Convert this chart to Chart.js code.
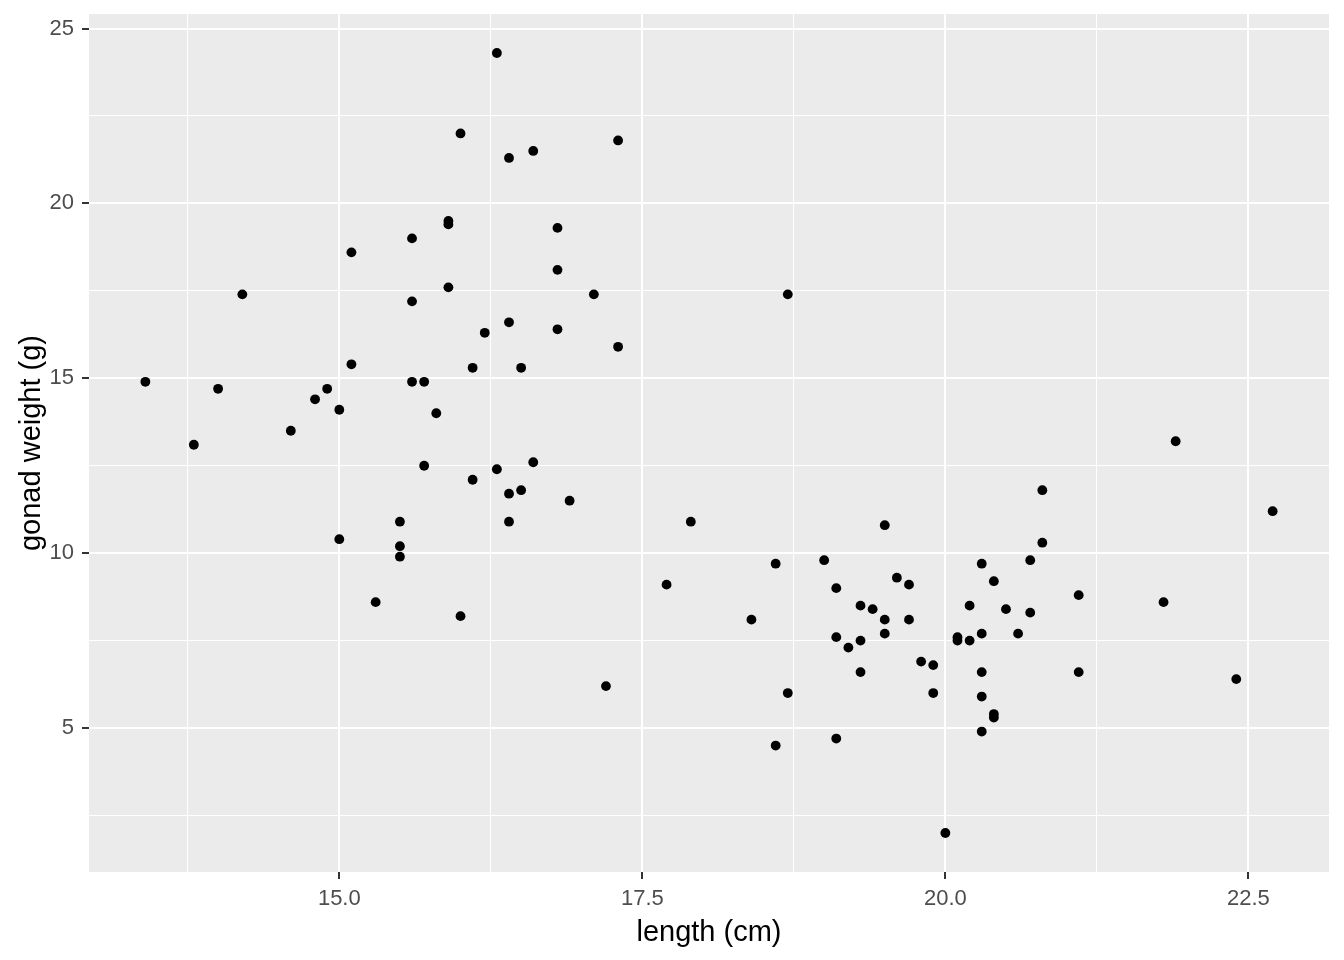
<!DOCTYPE html>
<html>
<head>
<meta charset="utf-8">
<title>gonad weight vs length</title>
<script src="https://cdn.jsdelivr.net/npm/chart.js@4"></script>
<style>
  html, body { margin: 0; padding: 0; background: #ffffff; }
  #chart { display: block; }
</style>
</head>
<body>
<canvas id="chart" width="1344" height="960"></canvas>
<script>
const lengthCm = [
  13.4, 13.8, 14.0, 14.2, 14.6, 14.8, 14.9, 15.0, 15.0, 15.1,
  15.1, 15.3, 15.5, 15.5, 15.5, 15.6, 15.6, 15.6, 15.7, 15.7,
  15.8, 15.9, 15.9, 15.9, 16.0, 16.0, 16.1, 16.1, 16.2, 16.3,
  16.3, 16.4, 16.4, 16.4, 16.4, 16.5, 16.5, 16.6, 16.6, 16.8,
  16.8, 16.8, 16.9, 17.1, 17.2, 17.3, 17.3, 17.7, 17.9, 18.4,
  18.6, 18.6, 18.7, 18.7, 19.0, 19.1, 19.1, 19.1, 19.2, 19.3,
  19.3, 19.3, 19.4, 19.5, 19.5, 19.5, 19.6, 19.7, 19.7, 19.8,
  19.9, 19.9, 20.0, 20.1, 20.1, 20.2, 20.2, 20.3, 20.3, 20.3,
  20.3, 20.3, 20.4, 20.4, 20.4, 20.5, 20.6, 20.7, 20.7, 20.8,
  20.8, 21.1, 21.1, 21.8, 21.9, 22.4, 22.7
];
const gonadWeight = [
  14.9, 13.1, 14.7, 17.4, 13.5, 14.4, 14.7, 14.1, 10.4, 18.6,
  15.4, 8.6, 10.9, 10.2, 9.9, 19.0, 17.2, 14.9, 14.9, 12.5,
  14.0, 19.5, 19.4, 17.6, 22.0, 8.2, 15.3, 12.1, 16.3, 24.3,
  12.4, 21.3, 16.6, 11.7, 10.9, 15.3, 11.8, 21.5, 12.6, 19.3,
  18.1, 16.4, 11.5, 17.4, 6.2, 21.8, 15.9, 9.1, 10.9, 8.1,
  9.7, 4.5, 17.4, 6.0, 9.8, 9.0, 7.6, 4.7, 7.3, 8.5,
  7.5, 6.6, 8.4, 10.8, 8.1, 7.7, 9.3, 9.1, 8.1, 6.9,
  6.8, 6.0, 2.0, 7.6, 7.5, 7.5, 8.5, 9.7, 7.7, 6.6,
  5.9, 4.9, 9.2, 5.4, 5.3, 8.4, 7.7, 9.8, 8.3, 11.8,
  10.3, 8.8, 6.6, 8.6, 13.2, 6.4, 11.2
];

// Axis breaks (major carry labels, minor only draw a thin grid line)
const xBreaks = [15, 17.5, 20, 22.5];
const xMinor = [13.75, 16.25, 18.75, 21.25];
const yBreaks = [5, 10, 15, 20, 25];
const yMinor = [2.5, 7.5, 12.5, 17.5, 22.5];
const xLimits = [12.935, 23.165];
const yLimits = [0.885, 25.415];

const points = lengthCm.map((x, i) => ({ x: x, y: gonadWeight[i] }));

// Grey panel behind the grid, like ggplot's theme_grey
const panelBackground = {
  id: 'panelBackground',
  beforeDraw(chart) {
    const { ctx, chartArea } = chart;
    ctx.save();
    ctx.fillStyle = '#EBEBEB';
    ctx.fillRect(chartArea.left, chartArea.top,
      chartArea.right - chartArea.left, chartArea.bottom - chartArea.top);
    ctx.restore();
  }
};

function setTicks(major, minor) {
  return function (scale) {
    scale.ticks = major.concat(minor).sort((a, b) => a - b).map(v => ({ value: v }));
  };
}

function isMajor(list, value) {
  return list.some(v => Math.abs(v - value) < 1e-9);
}

function gridOptions(major) {
  return {
    color: '#FFFFFF',
    lineWidth: ctx => (ctx.tick && isMajor(major, ctx.tick.value)) ? 2 : 1,
    tickColor: ctx => (ctx.tick && isMajor(major, ctx.tick.value)) ? '#333333' : 'rgba(0,0,0,0)',
    tickWidth: 2,
    tickLength: 7,
    drawTicks: true
  };
}

Chart.defaults.font.family = '"Liberation Sans", Arial, sans-serif';

new Chart(document.getElementById('chart'), {
  type: 'scatter',
  data: {
    datasets: [{
      data: points,
      backgroundColor: '#000000',
      borderWidth: 0,
      pointRadius: 4.9,
      pointHoverRadius: 4.9
    }]
  },
  options: {
    responsive: false,
    animation: false,
    devicePixelRatio: 1,
    layout: { padding: { top: 14, right: 15, bottom: 0, left: 0 } },
    plugins: {
      legend: { display: false },
      tooltip: { enabled: false }
    },
    scales: {
      x: {
        type: 'linear',
        min: xLimits[0],
        max: xLimits[1],
        afterBuildTicks: setTicks(xBreaks, xMinor),
        afterFit: scale => {
          scale.height = 88;
          scale.paddingLeft = 0;
          scale.paddingRight = 0;
        },
        border: { display: false },
        grid: gridOptions(xBreaks),
        ticks: {
          color: '#4D4D4D',
          font: { size: 22 },
          padding: 7,
          maxRotation: 0,
          autoSkip: false,
          callback: v => isMajor(xBreaks, v) ? v.toFixed(1) : ''
        },
        title: {
          display: true,
          text: 'length (cm)',
          color: '#000000',
          font: { size: 29 },
          padding: { top: 0, bottom: 10 }
        }
      },
      y: {
        type: 'linear',
        min: yLimits[0],
        max: yLimits[1],
        afterBuildTicks: setTicks(yBreaks, yMinor),
        afterFit: scale => {
          scale.width = 89;
          scale.paddingTop = 0;
          scale.paddingBottom = 0;
        },
        border: { display: false },
        grid: gridOptions(yBreaks),
        ticks: {
          color: '#4D4D4D',
          font: { size: 22 },
          padding: 8,
          autoSkip: false,
          callback: v => isMajor(yBreaks, v) ? String(v) : ''
        },
        title: {
          display: true,
          text: 'gonad weight (g)',
          color: '#000000',
          font: { size: 29 },
          padding: { top: 15, bottom: 0 }
        }
      }
    }
  },
  plugins: [panelBackground]
});
</script>
</body>
</html>
